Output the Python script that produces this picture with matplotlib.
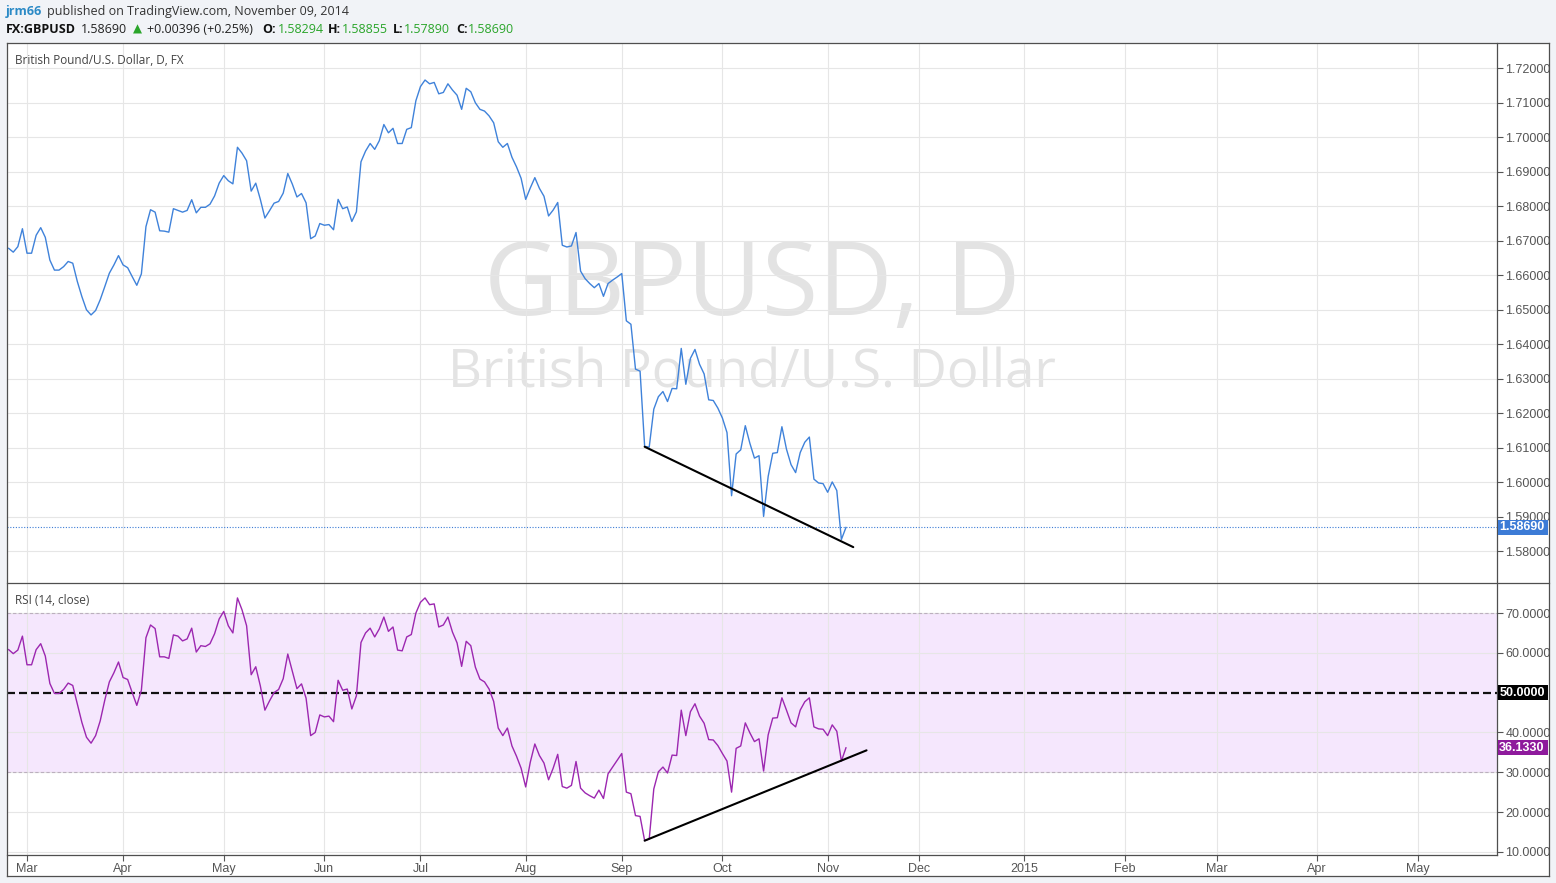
import matplotlib
matplotlib.use('Agg')
import matplotlib.pyplot as plt
from matplotlib.lines import Line2D
from matplotlib.patches import Rectangle
import pandas as pd

W, H = 1556, 883

# ---------------- data ----------------
start_date = '2014-02-25'
axis_end_date = '2015-06-30'

price = [
    1.6678, 1.6667, 1.6683, 1.6735, 1.6664, 1.6664, 1.6716, 1.6738, 1.6710, 1.6644,
    1.6615, 1.6615, 1.6625, 1.6640, 1.6635, 1.6582, 1.6538, 1.6500, 1.6485, 1.6498,
    1.6529, 1.6567, 1.6606, 1.6630, 1.6657, 1.6630, 1.6622, 1.6596, 1.6571, 1.6604,
    1.6741, 1.6790, 1.6783, 1.6729, 1.6728, 1.6725, 1.6793, 1.6788, 1.6783, 1.6788,
    1.6819, 1.6781, 1.6797, 1.6797, 1.6806, 1.6830, 1.6867, 1.6889, 1.6874, 1.6865,
    1.6971, 1.6954, 1.6932, 1.6844, 1.6867, 1.6820, 1.6766, 1.6787, 1.6809, 1.6814,
    1.6838, 1.6895, 1.6864, 1.6827, 1.6837, 1.6810, 1.6706, 1.6714, 1.6750, 1.6745,
    1.6747, 1.6732, 1.6820, 1.6793, 1.6798, 1.6756, 1.6784, 1.6929, 1.6960, 1.6982,
    1.6965, 1.6990, 1.7037, 1.7013, 1.7026, 1.6982, 1.6982, 1.7023, 1.7028, 1.7106,
    1.7147, 1.7166, 1.7155, 1.7159, 1.7126, 1.7130, 1.7155, 1.7137, 1.7122, 1.7081,
    1.7142, 1.7132, 1.7100, 1.7081, 1.7076, 1.7062, 1.7042, 1.6987, 1.6971, 1.6982,
    1.6942, 1.6914, 1.6881, 1.6820, 1.6853, 1.6883, 1.6852, 1.6829, 1.6772, 1.6789,
    1.6811, 1.6687, 1.6682, 1.6685, 1.6724, 1.6612, 1.6590, 1.6576, 1.6564, 1.6576,
    1.6539, 1.6576, 1.6586, 1.6595, 1.6605, 1.6468, 1.6458, 1.6328, 1.6322, 1.6104,
    1.6102, 1.6212, 1.6248, 1.6263, 1.6234, 1.6272, 1.6271, 1.6388, 1.6284, 1.6359,
    1.6385, 1.6342, 1.6314, 1.6239, 1.6237, 1.6215, 1.6186, 1.6144, 1.5961, 1.6082,
    1.6094, 1.6164, 1.6113, 1.6070, 1.6077, 1.5901, 1.6017, 1.6084, 1.6086, 1.6161,
    1.6096, 1.6051, 1.6028, 1.6086, 1.6116, 1.6131, 1.6009, 1.5998, 1.5996, 1.5971,
    1.6001, 1.5976, 1.5834, 1.5869,
]

rsi = [
    60.8, 59.8, 60.7, 64.2, 57.0, 57.0, 60.8, 62.3, 59.2, 52.3,
    49.8, 49.8, 50.8, 52.4, 51.8, 47.1, 42.5, 38.8, 37.3, 39.2,
    42.9, 48.1, 52.7, 55.0, 57.7, 53.8, 53.3, 50.0, 46.8, 50.6,
    63.8, 67.0, 66.1, 59.0, 59.0, 58.6, 64.5, 64.2, 63.0, 63.5,
    66.2, 60.2, 61.8, 61.6, 62.3, 64.8, 68.5, 70.4, 66.8, 65.0,
    73.8, 70.8, 66.8, 54.5, 56.5, 51.7, 45.6, 47.9, 50.0, 50.8,
    53.5, 59.7, 55.3, 51.0, 52.2, 48.6, 39.2, 40.0, 44.4, 43.9,
    44.1, 42.7, 53.1, 50.6, 50.9, 45.9, 49.2, 62.6, 65.0, 66.2,
    64.0, 66.0, 69.0, 65.4, 66.5, 60.7, 60.5, 64.0, 64.6, 70.0,
    72.7, 73.8, 72.1, 72.3, 66.5, 67.0, 69.0, 65.2, 62.5, 56.6,
    62.9, 61.8, 56.4, 53.4, 52.7, 50.9, 47.8, 41.1, 39.2, 41.1,
    36.6, 34.0, 31.0, 26.3, 32.5, 37.1, 34.2, 32.3, 28.1, 31.0,
    34.5, 26.4, 26.0, 26.7, 32.7, 26.0, 24.8, 24.1, 23.5, 25.5,
    23.4, 29.6, 31.3, 33.0, 34.7, 25.0, 24.6, 19.1, 18.9, 12.8,
    13.2, 25.8, 30.1, 31.3, 29.8, 34.3, 34.2, 45.6, 39.2, 45.2,
    47.2, 44.1, 42.3, 38.2, 38.1, 36.7, 34.7, 32.8, 25.0, 36.0,
    36.6, 42.4, 39.9, 37.7, 38.4, 30.3, 39.4, 43.6, 43.7, 48.7,
    45.6, 42.4, 41.4, 45.6, 47.7, 48.7, 41.4, 40.9, 40.8, 39.2,
    41.9, 40.3, 32.8, 36.133,
]

month_labels = ['Mar', 'Apr', 'May', 'Jun', 'Jul', 'Aug', 'Sep', 'Oct', 'Nov',
                'Dec', '2015', 'Feb', 'Mar', 'Apr', 'May']
price_ticks = [1.58, 1.59, 1.60, 1.61, 1.62, 1.63, 1.64, 1.65, 1.66, 1.67,
               1.68, 1.69, 1.70, 1.71, 1.72]
rsi_ticks = [10, 20, 30, 40, 60, 70]

# hand-drawn trend lines (bar index, value)
price_trend_x = [139, 184.6]
price_trend_y = [1.6103, 1.5812]
rsi_trend_x = [139, 187.5]
rsi_trend_y = [12.8, 35.5]

last_price = 1.58690
last_rsi = 36.1330
rsi_mid = 50.0
rsi_upper, rsi_lower = 70, 30

# ---------------- figure ----------------
fig = plt.figure(figsize=(W / 100, H / 100), dpi=100)
fig.patch.set_facecolor('#F1F3F7')

def px_axes(x0, y0, x1, y1):
    return fig.add_axes([x0 / W, 1 - y1 / H, (x1 - x0) / W, (y1 - y0) / H])

# white chart background
fig.add_artist(Rectangle((7 / W, 1 - 876 / H), (1549 - 7) / W, (876 - 43) / H,
                         transform=fig.transFigure, fc='white', ec='none', zorder=-5))

ax1 = px_axes(7, 43, 1497, 583)
ax2 = px_axes(7, 583, 1497, 855)

dates = pd.bdate_range(start_date, axis_end_date)
month_starts = pd.date_range('2014-03-01', '2015-05-01', freq='MS')
month_pos = dates.searchsorted(month_starts)
xs = list(range(len(price)))

tick_font = ['Liberation Sans Narrow', 'Liberation Sans', 'DejaVu Sans']
grid_col = '#E6E6E6'

for ax in (ax1, ax2):
    ax.set_facecolor('none')
    for s in ax.spines.values():
        s.set_visible(False)
    ax.set_xlim(-0.37, 325.3)
    ax.set_xticks(month_pos)
    ax.set_axisbelow(True)
    ax.grid(True, color=grid_col, lw=0.8)
    ax.yaxis.tick_right()
    ax.tick_params(axis='y', direction='out', length=4, width=0.8, color='#555555',
                   labelsize=9, labelcolor='#555555', pad=2)

# ---- price panel ----
ax1.set_ylim(1.5708, 1.72733)
ax1.set_yticks(price_ticks)
ax1.set_yticklabels(['%.5f' % v for v in price_ticks], family=tick_font)
ax1.tick_params(axis='x', length=0, labelbottom=False)

ax1.text(0.5, 0.545, 'GBPUSD, D', transform=ax1.transAxes, ha='center', va='center',
         fontsize=74, color='#E3E3E3', family=['Open Sans', 'DejaVu Sans'], zorder=0.3)
ax1.text(0.5, 0.388, 'British Pound/U.S. Dollar', transform=ax1.transAxes, ha='center',
         va='center', fontsize=38, color='#E3E3E3', family=['Open Sans', 'DejaVu Sans'],
         zorder=0.3)
ax1.text((15 - 7) / 1490, (583 - 60) / 540, 'British Pound/U.S. Dollar, D, FX',
         transform=ax1.transAxes, ha='left', va='center', fontsize=8.5, color='#444444',
         family=['Open Sans', 'DejaVu Sans'])

ax1.axhline(last_price, color='#3D7DD6', lw=0.8, ls=(0, (1, 1.5)), zorder=2)
ax1.plot(xs, price, color='#3F82DA', lw=1.0, zorder=3)
ax1.plot(price_trend_x, price_trend_y, color='black', lw=1.5, zorder=4,
         solid_capstyle='round')

# ---- RSI panel ----
ax2.set_ylim(9.2, 77.55)
ax2.set_yticks(rsi_ticks)
ax2.set_yticklabels(['%.4f' % v for v in rsi_ticks], family=tick_font)
ax2.axhspan(rsi_lower, rsi_upper, color='#F5E7FD', zorder=0.2, lw=0)
ax2.axhline(rsi_upper, color='#BBAFBE', lw=0.8, ls=(0, (3, 2)), zorder=0.6)
ax2.axhline(rsi_lower, color='#BBAFBE', lw=0.8, ls=(0, (3, 2)), zorder=0.6)
ax2.axhline(rsi_mid, color='#111111', lw=1.6, ls=(0, (3.6, 1.8)), zorder=2)
ax2.plot(xs, rsi, color='#9C27B0', lw=1.0, zorder=3)
ax2.plot(rsi_trend_x, rsi_trend_y, color='black', lw=1.5, zorder=4,
         solid_capstyle='round')
ax2.text((15 - 7) / 1490, (855 - 600) / 272, 'RSI (14, close)', transform=ax2.transAxes,
         ha='left', va='center', fontsize=8.5, color='#444444',
         family=['Open Sans', 'DejaVu Sans'])

ax2.set_xticklabels(month_labels, family=tick_font)
ax2.tick_params(axis='x', direction='out', length=4, width=0.8, color='#555555',
                labelsize=9, labelcolor='#555555', pad=1.5)

# ---- frame lines ----
frame_col = '#4F4F4F'
def fline(x0, y0, x1, y1):
    fig.add_artist(Line2D([x0 / W, x1 / W], [1 - y0 / H, 1 - y1 / H],
                          transform=fig.transFigure, color=frame_col, lw=0.9, zorder=10))

fline(7, 43, 1549, 43)
fline(7, 876, 1549, 876)
fline(7, 43, 7, 876)
fline(1549, 43, 1549, 876)
fline(7, 583, 1549, 583)
fline(1497, 43, 1497, 855)
fline(7, 855, 1497, 855)

# ---- value labels on the right axis ----
def value_label(ax, v, text, fc):
    yd = ax.transData.transform((0, v))[1]
    yf = yd / H
    fig.add_artist(Rectangle((1497.5 / W, yf - 7.5 / H), 50 / W, 15 / H,
                             transform=fig.transFigure, fc=fc, ec='none', zorder=11))
    fig.text(1522 / W, yf, text, ha='center', va='center', fontsize=9, color='white',
             weight='bold', family=tick_font, zorder=12)

value_label(ax1, last_price, '%.5f' % last_price, '#3C7BD6')
value_label(ax2, rsi_mid, '%.4f' % rsi_mid, '#000000')
value_label(ax2, last_rsi, '%.4f' % last_rsi, '#8E1A9C')

# ---- header ----
hf = ['Open Sans', 'DejaVu Sans']
y1 = 1 - 11.5 / H
y2 = 1 - 29.5 / H
def htext(x, y, s, color='#333333', weight='normal'):
    fig.text(x / W, y, s, ha='left', va='center', fontsize=9.0, color=color,
             weight=weight, family=hf)

htext(6, y1, 'jrm66', color='#2B8AC6', weight='bold')
htext(47, y1, 'published on TradingView.com, November 09, 2014')
green = '#2AA52A'
htext(6, y2, 'FX:GBPUSD', color='#111111', weight='bold')
htext(81, y2, '1.58690', color='#222222')
fig.text(133 / W, y2, '\u25B2', ha='left', va='center', fontsize=8.5, color=green,
         family=['DejaVu Sans'])
htext(147, y2, '+0.00396 (+0.25%)', color='#222222')
htext(262, y2, 'O:', color='#111111', weight='bold')
htext(278, y2, '1.58294', color=green)
htext(328, y2, 'H:', color='#111111', weight='bold')
htext(342, y2, '1.58855', color=green)
htext(393, y2, 'L:', color='#111111', weight='bold')
htext(404, y2, '1.57890', color=green)
htext(456, y2, 'C:', color='#111111', weight='bold')
htext(468, y2, '1.58690', color=green)

fig.savefig('out.png', dpi=100, facecolor=fig.get_facecolor())
